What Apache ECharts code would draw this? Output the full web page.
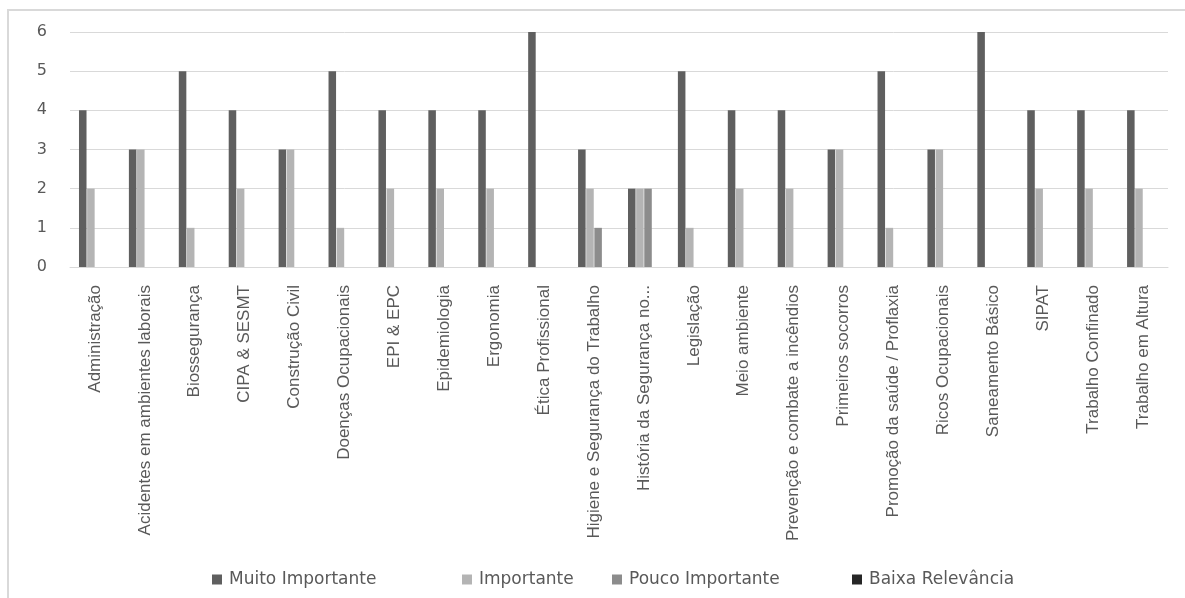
<!DOCTYPE html>
<html>
<head>
<meta charset="utf-8">
<script src="https://cdn.jsdelivr.net/npm/echarts@6/dist/echarts.min.js"></script>
<style>
  html, body { margin: 0; padding: 0; background: #fff; }
  #chart { width: 1185px; height: 598px; }
</style>
</head>
<body>
<div id="chart"></div>
<script>
// Topics of the occupational-safety course, rated by relevance
const categories = [
  'Administração', 'Acidentes em ambientes laborais', 'Biossegurança', 'CIPA & SESMT',
  'Construção Civil', 'Doenças Ocupacionais', 'EPI & EPC', 'Epidemiologia', 'Ergonomia',
  'Ética Profissional', 'Higiene e Segurança do Trabalho', 'História da Segurança no...',
  'Legislação', 'Meio ambiente', 'Prevenção e combate a incêndios', 'Primeiros socorros',
  'Promoção da saúde / Proflaxia', 'Ricos Ocupacionais', 'Saneamento Básico', 'SIPAT',
  'Trabalho Confinado', 'Trabalho em Altura'
];
const seriesNames = ['Muito Importante', 'Importante', 'Pouco Importante', 'Baixa Relevância'];
const muitoImportante = [4, 3, 5, 4, 3, 5, 4, 4, 4, 6, 3, 2, 5, 4, 4, 3, 5, 3, 6, 4, 4, 4];
const importante      = [2, 3, 1, 2, 3, 1, 2, 2, 2, 0, 2, 2, 1, 2, 2, 3, 1, 3, 0, 2, 2, 2];
const poucoImportante = [0, 0, 0, 0, 0, 0, 0, 0, 0, 0, 1, 2, 0, 0, 0, 0, 0, 0, 0, 0, 0, 0];
const baixaRelevancia = [0, 0, 0, 0, 0, 0, 0, 0, 0, 0, 0, 0, 0, 0, 0, 0, 0, 0, 0, 0, 0, 0];
const yTicks = [0, 1, 2, 3, 4, 5, 6];

const colors = ['#5f5f5f', '#b4b4b4', '#8c8c8c', '#262626'];
const values = [muitoImportante, importante, poucoImportante, baixaRelevancia];
const legendLeft = [207, 457, 607, 847];

const chart = echarts.init(document.getElementById('chart'));
chart.setOption({
  animation: false,
  backgroundColor: '#fff',
  color: colors,
  graphic: [{
    type: 'rect',
    shape: { x: 8, y: 10, width: 1200, height: 620 },
    style: { fill: 'none', stroke: '#d9d9d9', lineWidth: 2 },
    silent: true
  }],
  legend: seriesNames.map((name, i) => ({
    data: [name],
    left: legendLeft[i],
    top: 566,
    icon: 'rect',
    itemWidth: 10,
    itemHeight: 10,
    itemGap: 0,
    textStyle: { fontFamily: 'DejaVu Sans', fontSize: 17, color: '#595959', padding: [0, 0, 0, 2] }
  })),
  grid: { left: 70, right: 17, top: 32, bottom: 331, containLabel: false },
  xAxis: {
    type: 'category',
    data: categories,
    axisLine: { lineStyle: { color: '#d9d9d9', width: 1 } },
    axisTick: { show: false },
    axisLabel: {
      interval: 0,
      rotate: 90,
      margin: 18,
      fontFamily: 'Liberation Sans',
      fontSize: 17,
      color: '#595959'
    }
  },
  yAxis: {
    type: 'value',
    min: yTicks[0],
    max: yTicks[yTicks.length - 1],
    interval: 1,
    axisLine: { show: false },
    axisTick: { show: false },
    splitLine: { lineStyle: { color: '#d9d9d9', width: 1 } },
    axisLabel: {
      margin: 23,
      fontFamily: 'DejaVu Sans',
      fontSize: 16,
      color: '#595959'
    }
  },
  series: seriesNames.map((name, i) => ({
    name,
    type: 'bar',
    data: values[i],
    barCategoryGap: '36%',
    barGap: '8%',
    itemStyle: { color: colors[i] }
  }))
});
</script>
</body>
</html>
